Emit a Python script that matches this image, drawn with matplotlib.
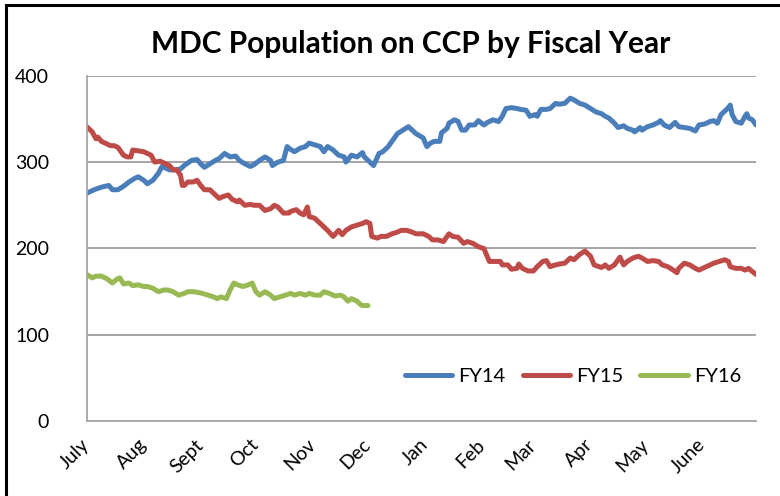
import matplotlib
matplotlib.use("Agg")
import matplotlib.pyplot as plt
from matplotlib.patches import Rectangle

plt.rcParams['font.family'] = ['Lato', 'DejaVu Sans']

months = ['July', 'Aug', 'Sept', 'Oct', 'Nov', 'Dec', 'Jan', 'Feb', 'Mar', 'Apr', 'May', 'June']
month_start = [0, 31, 62, 92, 123, 153, 184, 215, 243, 274, 304, 335]  # day of fiscal year

fy14_days = [0, 4, 8, 12, 14, 17, 20, 23, 26, 28, 31, 33, 36, 39, 41, 43, 45, 48, 51, 53, 57, 60, 62, 64, 67, 70, 72, 75,
             78, 81, 83, 86, 89, 91, 94, 97, 100, 101, 104, 107, 109, 110, 113, 116, 119, 121, 124, 127, 129, 131, 134,
             137, 140, 141, 144, 147, 150, 151, 154, 156, 159, 161, 164, 167, 169, 172, 175, 177, 179, 183, 185, 187,
             189, 192, 193, 196, 197, 200, 202, 204, 206, 208, 211, 213, 216, 218, 221, 224, 226, 228, 231, 234, 236,
             239, 241, 244, 245, 247, 250, 252, 255, 257, 260, 263, 265, 268, 271, 274, 277, 280, 282, 284, 287, 289,
             292, 294, 297, 298, 301, 302, 305, 308, 311, 312, 314, 317, 320, 322, 325, 328, 331, 333, 336, 339, 341,
             343, 345, 347, 349, 350, 351, 353, 356, 358, 359, 360, 362, 364]
fy14_vals = [264, 268, 271, 273, 268, 268, 272, 277, 281, 283, 279, 275, 279, 287, 295, 293, 291, 291, 292, 296, 302, 303,
             298, 294, 298, 302, 304, 310, 306, 307, 302, 298, 295, 297, 302, 306, 302, 296, 300, 302, 318, 316, 312, 316,
             318, 322, 320, 318, 312, 318, 314, 308, 306, 300, 308, 306, 311, 306, 300, 296, 310, 312, 318, 327, 333, 337,
             341, 337, 333, 328, 318, 322, 324, 324, 334, 339, 345, 349, 347, 337, 337, 343, 343, 348, 343, 346, 349, 347,
             353, 362, 363, 362, 361, 360, 353, 355, 353, 361, 361, 362, 368, 367, 368, 374, 372, 368, 366, 362, 358, 356,
             353, 351, 345, 340, 342, 339, 337, 335, 340, 337, 341, 343, 346, 348, 343, 340, 346, 341, 340, 339, 336, 343,
             344, 347, 348, 345, 355, 359, 363, 366, 355, 347, 345, 353, 356, 351, 349, 343]

fy15_days = [0, 3, 5, 6, 8, 10, 13, 15, 17, 20, 22, 24, 25, 28, 31, 33, 35, 37, 40, 43, 45, 47, 49, 51, 52, 53, 55, 58,
             60, 62, 64, 67, 70, 72, 74, 77, 79, 82, 83, 86, 89, 91, 94, 97, 100, 102, 104, 107, 110, 111, 114, 116, 118,
             120, 121, 124, 126, 129, 131, 134, 137, 139, 141, 144, 147, 150, 152, 154, 155, 158, 160, 163, 166, 169, 171,
             174, 177, 179, 183, 186, 188, 191, 194, 197, 199, 202, 205, 207, 210, 213, 216, 217, 219, 222, 225, 226,
             229, 231, 234, 235, 237, 240, 243, 245, 248, 250, 252, 255, 257, 260, 263, 265, 268, 271, 274, 276, 280,
             282, 284, 287, 290, 292, 294, 297, 300, 302, 305, 308, 311, 313, 316, 319, 321, 322, 325, 328, 331, 333,
             336, 339, 341, 344, 347, 349, 350, 353, 356, 358, 360, 361, 364]
fy15_vals = [341, 335, 327, 329, 324, 322, 319, 319, 317, 308, 306, 306, 314, 313, 312, 310, 308, 300, 301, 298, 296, 291,
             291, 285, 273, 273, 277, 277, 279, 273, 268, 268, 262, 258, 260, 262, 257, 254, 256, 250, 251, 250, 250, 244,
             246, 250, 248, 241, 241, 243, 245, 241, 239, 248, 237, 235, 231, 225, 221, 214, 221, 216, 221, 225, 227, 229,
             231, 229, 214, 212, 214, 214, 217, 219, 221, 221, 219, 217, 217, 214, 210, 210, 208, 217, 214, 213, 206, 208,
             206, 202, 200, 195, 185, 185, 185, 181, 181, 176, 177, 182, 177, 174, 174, 179, 185, 186, 179, 181, 182, 183,
             189, 187, 193, 197, 191, 181, 178, 181, 177, 181, 190, 181, 185, 189, 191, 189, 185, 186, 185, 181, 179, 175,
             172, 177, 183, 181, 177, 175, 178, 181, 183, 185, 187, 185, 179, 177, 177, 175, 177, 175, 170]

fy16_days = [0, 3, 5, 8, 11, 14, 16, 18, 20, 23, 25, 28, 31, 33, 36, 39, 42, 44, 47, 50, 53, 55, 58, 61, 63, 66, 69, 71,
             73, 76, 78, 80, 82, 85, 88, 90, 92, 94, 97, 100, 102, 105, 108, 111, 113, 116, 119, 121, 124, 127, 129, 132,
             135, 138, 140, 142, 144, 147, 149, 150, 153]
fy16_vals = [170, 166, 168, 168, 165, 160, 164, 166, 159, 160, 157, 158, 156, 156, 154, 150, 152, 152, 150, 146, 148, 150,
             150, 149, 148, 146, 144, 142, 144, 142, 152, 160, 158, 156, 158, 160, 150, 146, 150, 146, 142, 144, 146, 148,
             146, 148, 146, 148, 146, 146, 150, 148, 145, 146, 144, 139, 142, 139, 135, 134, 134]

series = [('FY14', fy14_days, fy14_vals, '#4A7EBB'),
          ('FY15', fy15_days, fy15_vals, '#BE4B48'),
          ('FY16', fy16_days, fy16_vals, '#98B954')]

W, H = 780, 496
fig = plt.figure(figsize=(W / 100, H / 100), dpi=100)
ax = fig.add_axes([86.7 / W, 1 - 421.3 / H, (756 - 86.7) / W, (421.3 - 75.7) / H])

for name, d, v, c in series:
    ax.plot(d, v, color=c, lw=3.6, label=name, solid_joinstyle='round', solid_capstyle='round')

ax.set_xlim(0, 364)
ax.set_ylim(0, 400)
ax.set_yticks([0, 100, 200, 300, 400])
ax.set_xticks(month_start)
ax.set_xticklabels(months, rotation=45, ha='right', va='center', rotation_mode='anchor')
ax.tick_params(axis='y', length=0, pad=27, labelsize=14)
ax.tick_params(axis='x', length=0, pad=15, labelsize=14)
ax.grid(axis='y', color='#8c8c8c', lw=1.1)
ax.set_axisbelow(True)
for s in ['top', 'right']:
    ax.spines[s].set_visible(False)
for s in ['left', 'bottom']:
    ax.spines[s].set_color('#a6a6a6')
    ax.spines[s].set_linewidth(1.3)

fig.text(411 / W, 1 - 53 / H, 'MDC Population on CCP by Fiscal Year', ha='center', va='baseline',
         fontsize=21.5, fontweight='bold')

ax.legend(loc='center left', bbox_to_anchor=(405 / W, 1 - 376 / H), bbox_transform=fig.transFigure,
          ncol=3, frameon=False, fontsize=14.5, handlelength=2.35, handletextpad=0.3,
          columnspacing=0.85, borderpad=0, borderaxespad=0)

# black frame, only top and left edges fall inside the picture
fig.patches.append(Rectangle((5.5 / W, -0.1), 1.1, 1.1 - 5.5 / H, transform=fig.transFigure,
                             fill=False, edgecolor='black', lw=2.2))

fig.savefig('out.png', dpi=100)
